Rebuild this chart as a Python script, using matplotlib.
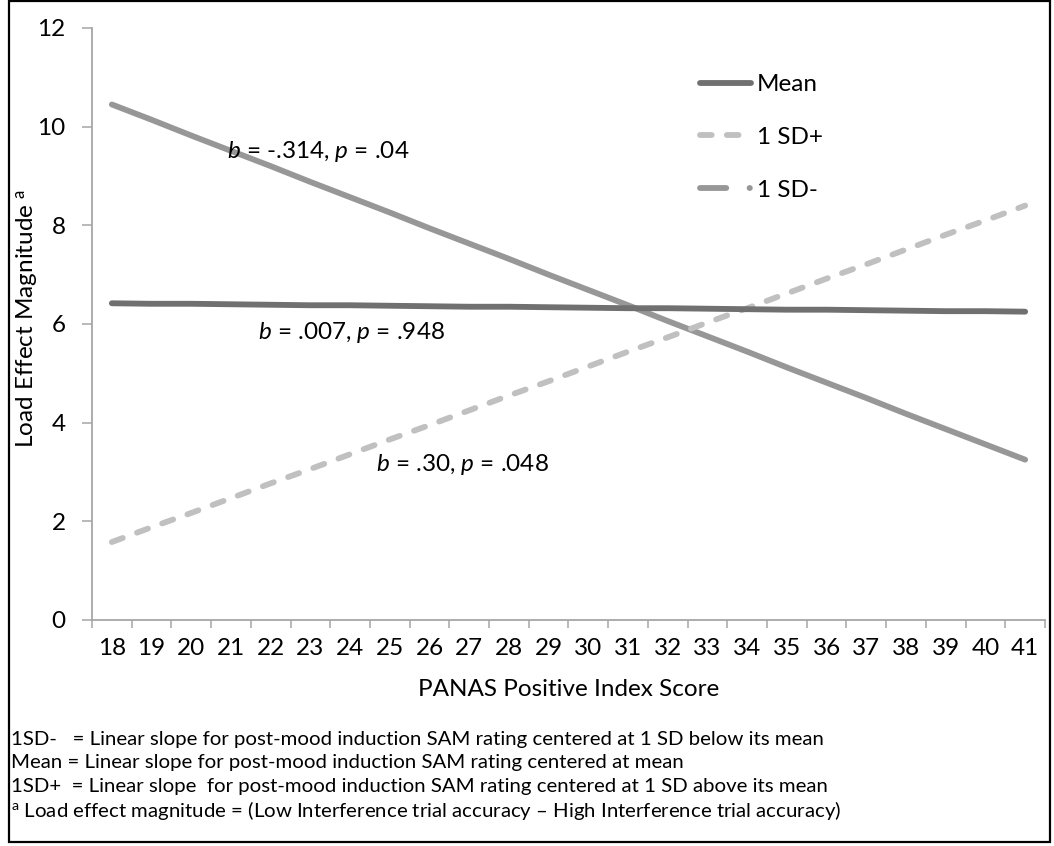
import matplotlib
matplotlib.use('Agg')
import matplotlib.pyplot as plt
from matplotlib.lines import Line2D
from matplotlib.patches import Rectangle
import numpy as np

plt.rcParams['font.family'] = ['Lato', 'DejaVu Sans']
plt.rcParams['mathtext.fontset'] = 'custom'
plt.rcParams['mathtext.rm'] = 'Lato'
plt.rcParams['mathtext.it'] = 'Lato:italic'

# PANAS positive index scores (category axis)
scores = [18, 19, 20, 21, 22, 23, 24, 25, 26, 27, 28, 29,
          30, 31, 32, 33, 34, 35, 36, 37, 38, 39, 40, 41]

# load effect magnitude
mean_vals = [6.42, 6.41, 6.41, 6.40, 6.39, 6.38, 6.38, 6.37, 6.36, 6.35, 6.35, 6.34,
             6.33, 6.32, 6.32, 6.31, 6.30, 6.29, 6.29, 6.28, 6.27, 6.26, 6.26, 6.25]
sd_plus = [1.58, 1.88, 2.17, 2.47, 2.77, 3.06, 3.36, 3.66, 3.95, 4.25, 4.55, 4.84,
           5.14, 5.44, 5.73, 6.03, 6.32, 6.62, 6.92, 7.21, 7.51, 7.81, 8.10, 8.40]
sd_minus = [10.45, 10.14, 9.82, 9.51, 9.20, 8.88, 8.57, 8.26, 7.94, 7.63, 7.32, 7.00,
            6.69, 6.38, 6.06, 5.75, 5.44, 5.12, 4.81, 4.50, 4.18, 3.87, 3.56, 3.25]

series_labels = ['Mean', '1 SD+', '1 SD-']
yticks = [0, 2, 4, 6, 8, 10, 12]

notes = ['1SD-   = Linear slope for post-mood induction SAM rating centered at 1 SD below its mean',
         'Mean = Linear slope for post-mood induction SAM rating centered at mean',
         '1SD+  = Linear slope  for post-mood induction SAM rating centered at 1 SD above its mean',
         '$^{\\mathrm{a}}$ Load effect magnitude = (Low Interference trial accuracy \u2013 High Interference trial accuracy)']

c_mean = '#707070'
c_plus = '#c0c0c0'
c_minus = '#979797'
axis_c = '#a6a6a6'
lw = 4.2
fs = 17.5

W, H = 1054, 846
fig = plt.figure(figsize=(W / 100, H / 100), dpi=100)
ax = fig.add_axes([92 / W, 1 - 620 / H, (1045 - 92) / W, (620 - 28) / H])

x = np.arange(len(scores))
ax.plot(x, sd_minus, color=c_minus, lw=lw, solid_capstyle='round')
ax.plot(x, sd_plus, color=c_plus, lw=lw, linestyle=(0, (2.0, 2.6)), dash_capstyle='round')
ax.plot(x, mean_vals, color=c_mean, lw=lw, solid_capstyle='round')

ax.set_xlim(-0.5, len(scores) - 0.5)
ax.set_ylim(0, 12)
ax.set_xticks(x)
ax.set_xticklabels([str(s) for s in scores], fontsize=fs)
ax.set_xticks(np.arange(-0.5, len(scores), 1), minor=True)
ax.set_yticks(yticks)
ax.set_yticklabels([str(v) for v in yticks], fontsize=fs)
ax.tick_params(axis='x', which='major', length=0, pad=13)
ax.tick_params(axis='x', which='minor', length=6, width=1.1, color=axis_c, direction='out')
ax.tick_params(axis='y', length=7, width=1.1, color=axis_c, direction='out', pad=12)
for s in ['top', 'right']:
    ax.spines[s].set_visible(False)
for s in ['left', 'bottom']:
    ax.spines[s].set_color(axis_c)
    ax.spines[s].set_linewidth(1.3)

ax.set_xlabel('PANAS Positive Index Score', fontsize=fs, va='center')
ax.xaxis.set_label_coords(0.5, (620 - 689) / 592)
ax.set_ylabel('Load Effect Magnitude $^{\\mathrm{a}}$', fontsize=fs, va='center')
ax.yaxis.set_label_coords((27 - 92) / 953, (620 - 318) / 592)

# slope annotations
ax.text(2.9, 9.49, '$b$ = -.314, $p$ = .04', fontsize=fs, ha='left', va='center')
ax.text(3.67, 5.82, '$b$ = .007, $p$ = .948', fontsize=fs, ha='left', va='center')
ax.text(6.66, 3.16, '$b$ = .30, $p$ = .048', fontsize=fs, ha='left', va='center')

handles = [Line2D([], [], color=c_mean, lw=lw, solid_capstyle='round'),
           Line2D([], [], color=c_plus, lw=lw, linestyle=(0, (2.0, 2.6)), dash_capstyle='round'),
           Line2D([], [], color=c_minus, lw=lw, linestyle=(0, (4.5, 4.0, 0.05, 20)), dash_capstyle='round')]
ax.legend(handles, series_labels, loc='upper left', bbox_to_anchor=(700 / W, 1 - 74 / H),
          bbox_transform=fig.transFigure, frameon=False, fontsize=fs, handlelength=2.1,
          handletextpad=0.25, labelspacing=1.31, borderpad=0, borderaxespad=0)

for i, t in enumerate(notes):
    fig.text(11 / W, 1 - (739 + 23.7 * i) / H, t, fontsize=14.7, ha='left', va='center')

fig.patches.append(Rectangle((8.5 / W, 1 - 842 / H), (1050 - 8.5) / W, (842 - 1) / H,
                             transform=fig.transFigure, fill=False, edgecolor='black', lw=1.6))

fig.savefig('out.png', dpi=100)
